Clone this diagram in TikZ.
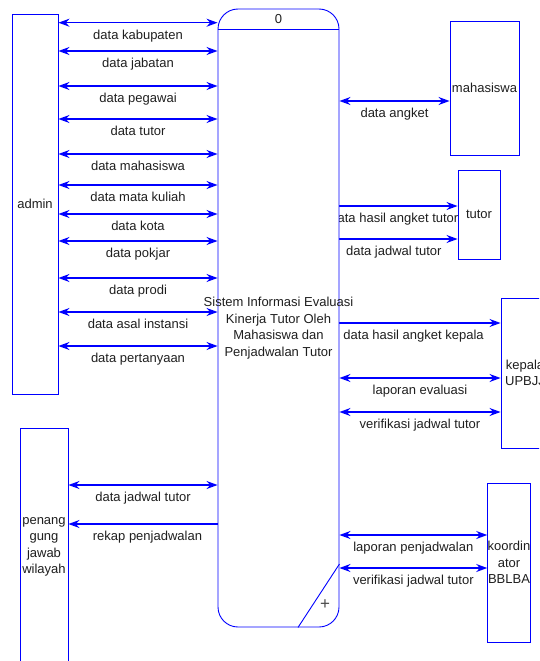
\documentclass[tikz,border=0pt]{standalone}
\usepackage{fontspec}
\setmainfont{Liberation Sans}
\usetikzlibrary{arrows.meta}
\pgfdeclarelayer{back}
\pgfsetlayers{back,main}

\begin{document}
\begin{tikzpicture}[
  x=1pt, y=-1pt,
  >={Stealth[length=11pt,width=8pt]},
  every node/.style={font=\fontsize{13}{16.5}\selectfont, text=black!88},
  entity/.style={draw=blue, line width=0.9pt, fill=white, inner sep=0pt, align=center},
  process/.style={draw=blue, line width=0.9pt, fill=white, rounded corners=20pt, inner sep=0pt},
  flow/.style={draw=blue, line width=1.2pt},
  lbl/.style={midway, below=5.5pt, inner sep=1pt}
]
  \useasboundingbox (0,0) rectangle (539,661);
  \clip (0,0) rectangle (539,661);

  \node[entity, minimum width=46pt, minimum height=380pt] (admin) at (35,204) {admin};
  \node[entity, minimum width=69pt, minimum height=134pt] (mhs) at (484.5,88) {mahasiswa};
  \node[entity, fill=none, minimum width=42pt, minimum height=89pt] (tutor) at (479,214.5) {tutor};
  \node[entity, minimum width=48pt, minimum height=150pt] (kepala) at (525,373) {kepala\\UPBJJ};
  \node[entity, minimum width=48pt, minimum height=238pt] (pj) at (44,547) {penang\\gung\\jawab\\wilayah};
  \node[entity, minimum width=42pt, minimum height=159pt] (koord) at (509,562.5) {koordin\\ator\\BBLBA};

  \node[process, minimum width=121pt, minimum height=618pt] (proc) at (278.5,318) {};
  \draw[blue, line width=0.9pt] (proc.west |- 0,29) -- (proc.east |- 0,29);
  \draw[blue, line width=0.9pt] (proc.east |- 0,564) -- (proc.south -| 298,0);
  \node (num) at (278.5,19) {0};
  \node[align=center] (proctext) at (278.5,328) {Sistem Informasi Evaluasi\\Kinerja Tutor Oleh\\Mahasiswa dan\\Penjadwalan Tutor};
  \node[font=\fontsize{17}{17}\selectfont, text=black!70, inner sep=0pt] (plus) at (325,605) {+};

  \begin{pgfonlayer}{back}
  \draw[flow,<->] (admin.east |- 0,22.7) -- node[lbl] {data kabupaten} (proc.west |- 0,22.7);
  \draw[flow,<->] (admin.east |- 0,51) -- node[lbl] {data jabatan} (proc.west |- 0,51);
  \draw[flow,<->] (admin.east |- 0,86) -- node[lbl] {data pegawai} (proc.west |- 0,86);
  \draw[flow,<->] (admin.east |- 0,119) -- node[lbl] {data tutor} (proc.west |- 0,119);
  \draw[flow,<->] (admin.east |- 0,154) -- node[lbl] {data mahasiswa} (proc.west |- 0,154);
  \draw[flow,<->] (admin.east |- 0,185) -- node[lbl] {data mata kuliah} (proc.west |- 0,185);
  \draw[flow,<->] (admin.east |- 0,214) -- node[lbl] {data kota} (proc.west |- 0,214);
  \draw[flow,<->] (admin.east |- 0,241) -- node[lbl] {data pokjar} (proc.west |- 0,241);
  \draw[flow,<->] (admin.east |- 0,278) -- node[lbl] {data prodi} (proc.west |- 0,278);
  \draw[flow,<->] (admin.east |- 0,312) -- node[lbl] {data asal instansi} (proc.west |- 0,312);
  \draw[flow,<->] (admin.east |- 0,346) -- node[lbl] {data pertanyaan} (proc.west |- 0,346);

  \draw[flow,<->] (proc.east |- 0,101) -- node[lbl] {data angket} (mhs.west |- 0,101);
  \draw[flow,->] (proc.east |- 0,206) -- node[lbl, pos=.465] {data hasil angket tutor} (tutor.west |- 0,206);
  \draw[flow,->] (proc.east |- 0,239) -- node[lbl, pos=.46] {data jadwal tutor} (tutor.west |- 0,239);
  \draw[flow,->] (proc.east |- 0,323) -- node[lbl, pos=.46] {data hasil angket kepala} (kepala.west |- 0,323);
  \draw[flow,<->] (proc.east |- 0,378) -- node[lbl] {laporan evaluasi} (kepala.west |- 0,378);
  \draw[flow,<->] (proc.east |- 0,412) -- node[lbl] {verifikasi jadwal tutor} (kepala.west |- 0,412);

  \draw[flow,<->] (pj.east |- 0,485) -- node[lbl] {data jadwal tutor} (proc.west |- 0,485);
  \draw[flow,<-] (pj.east |- 0,524) -- node[lbl, pos=.53] {rekap penjadwalan} (proc.west |- 0,524);

  \draw[flow,<->] (proc.east |- 0,535) -- node[lbl] {laporan penjadwalan} (koord.west |- 0,535);
  \draw[flow,<->] (proc.east |- 0,568) -- node[lbl] {verifikasi jadwal tutor} (koord.west |- 0,568);
  \end{pgfonlayer}
\end{tikzpicture}
\end{document}
